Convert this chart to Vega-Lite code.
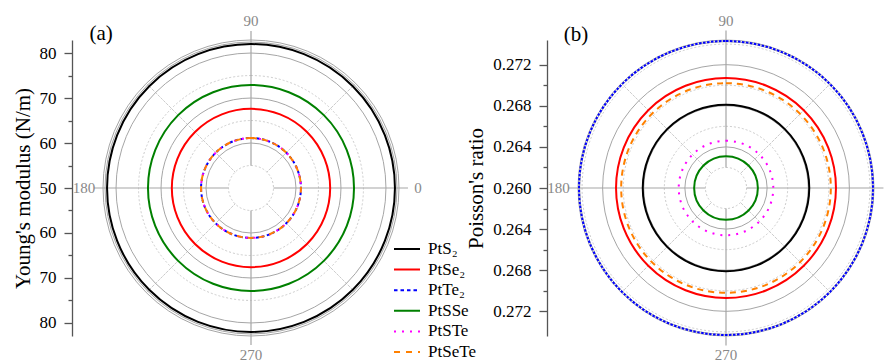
{
  "$schema": "https://vega.github.io/schema/vega-lite/v6.json",
  "background": "white",
  "padding": {"left": 12, "top": 13, "right": 0, "bottom": 0},
  "spacing": 0,
  "bounds": "flush",
  "config": {
    "view": {"stroke": null},
    "font": "Liberation Serif",
    "axis": {
      "grid": false,
      "labelFont": "Liberation Serif",
      "titleFont": "Liberation Serif",
      "labelFontSize": 17,
      "titleFontSize": 21,
      "titleFontWeight": "normal",
      "labelColor": "#000000",
      "titleColor": "#000000",
      "domainColor": "#555555",
      "tickColor": "#555555",
      "domainWidth": 1.3,
      "tickWidth": 1.3
    }
  },
  "datasets": {
    "materials": [
      {"material": "PtS2", "label": "PtS₂", "young": 82.0, "poisson": 0.2681},
      {"material": "PtSe2", "label": "PtSe₂", "young": 67.6, "poisson": 0.2707},
      {"material": "PtTe2", "label": "PtTe₂", "young": 61.1, "poisson": 0.2743},
      {"material": "PtSSe", "label": "PtSSe", "young": 72.9, "poisson": 0.2631},
      {"material": "PtSTe", "label": "PtSTe", "young": 61.1, "poisson": 0.2646},
      {"material": "PtSeTe", "label": "PtSeTe", "young": 61.1, "poisson": 0.2702}
    ],
    "gridA": [
      {"r": 55, "kind": "minor"}, {"r": 65, "kind": "minor"}, {"r": 75, "kind": "minor"},
      {"r": 60, "kind": "major"}, {"r": 70, "kind": "major"}, {"r": 80, "kind": "major"},
      {"r": 82.9, "kind": "major"}, {"r": 82.45, "kind": "major"}
    ],
    "gridB": [
      {"r": 0.262, "kind": "minor"}, {"r": 0.266, "kind": "minor"}, {"r": 0.270, "kind": "minor"}, {"r": 0.274, "kind": "minor"},
      {"r": 0.264, "kind": "major"}, {"r": 0.268, "kind": "major"}, {"r": 0.272, "kind": "major"},
      {"r": 0.2744, "kind": "major"}, {"r": 0.27424, "kind": "major"}
    ],
    "spokes": [
      {"angle": 0, "kind": "major"}, {"angle": 45, "kind": "minor"}, {"angle": 90, "kind": "major"}, {"angle": 135, "kind": "minor"},
      {"angle": 180, "kind": "major"}, {"angle": 225, "kind": "minor"}, {"angle": 270, "kind": "major"}, {"angle": 315, "kind": "minor"}
    ],
    "angleLabels": [
      {"angle": 0, "label": "0"}, {"angle": 90, "label": "90"}, {"angle": 180, "label": "180"}, {"angle": 270, "label": "270"}
    ]
  },
  "hconcat": [
    {
      "width": 296,
      "height": 296,
      "layer": [
        {
          "data": {"name": "gridA"},
          "transform": [{"filter": "datum.kind == 'minor'"}],
          "mark": {"type": "arc", "filled": false, "stroke": "#cccccc", "strokeWidth": 1, "strokeDash": [2, 2], "theta": 0, "theta2": 6.2832},
          "encoding": {
            "radius": {"field": "r", "type": "quantitative", "stack": null, "scale": {"type": "linear", "domain": [50, 82.9], "range": [0, 148], "zero": false, "nice": false}}
          }
        },
        {
          "data": {"name": "spokes"},
          "transform": [{"filter": "datum.kind == 'minor'"}],
          "mark": {"type": "arc", "filled": false, "stroke": "#cccccc", "strokeWidth": 1, "strokeDash": [2, 2]},
          "encoding": {
            "theta": {"field": "angle", "type": "quantitative", "stack": null, "scale": {"domain": [0, 360], "range": [1.5707963, -4.712389], "zero": false, "nice": false}},
            "theta2": {"field": "angle"},
            "radius": {"datum": 55, "type": "quantitative", "stack": null, "scale": {"type": "linear", "domain": [50, 82.9], "range": [0, 148], "zero": false, "nice": false}},
            "radius2": {"datum": 82.9}
          }
        },
        {
          "data": {"name": "gridA"},
          "transform": [{"filter": "datum.kind == 'major'"}],
          "mark": {"type": "arc", "filled": false, "stroke": "#a6a6a6", "strokeWidth": 1, "theta": 0, "theta2": 6.2832},
          "encoding": {
            "radius": {"field": "r", "type": "quantitative", "stack": null, "scale": {"type": "linear", "domain": [50, 82.9], "range": [0, 148], "zero": false, "nice": false}}
          }
        },
        {
          "data": {"name": "spokes"},
          "transform": [{"filter": "datum.kind == 'major'"}],
          "mark": {"type": "arc", "filled": false, "stroke": "#a6a6a6", "strokeWidth": 1.2},
          "encoding": {
            "theta": {"field": "angle", "type": "quantitative", "stack": null, "scale": {"domain": [0, 360], "range": [1.5707963, -4.712389], "zero": false, "nice": false}},
            "theta2": {"field": "angle"},
            "radius": {"datum": 55, "type": "quantitative", "stack": null, "scale": {"type": "linear", "domain": [50, 82.9], "range": [0, 148], "zero": false, "nice": false}},
            "radius2": {"datum": 84.9}
          }
        },
        {
          "data": {"name": "materials"},
          "transform": [{"filter": "indexof(['PtS2', 'PtSe2', 'PtSSe'], datum.material) >= 0"}],
          "mark": {"type": "arc", "filled": false, "strokeWidth": 2, "theta": 0, "theta2": 6.2832},
          "encoding": {
            "radius": {"field": "young", "type": "quantitative", "stack": null, "scale": {"type": "linear", "domain": [50, 82.9], "range": [0, 148], "zero": false, "nice": false}},
            "color": {"field": "material", "type": "nominal", "legend": null,
              "scale": {"domain": ["PtS2", "PtSe2", "PtTe2", "PtSSe", "PtSTe", "PtSeTe"], "range": ["#000000", "#ff0000", "#0000ff", "#008000", "#ff00ff", "#ff8000"]}}
          }
        },
        {
          "data": {"name": "materials"},
          "transform": [{"filter": "datum.material == 'PtTe2'"}],
          "mark": {"type": "arc", "filled": false, "strokeWidth": 2, "strokeDash": [3, 2.5], "theta": 0, "theta2": 6.2832},
          "encoding": {
            "radius": {"field": "young", "type": "quantitative", "stack": null, "scale": {"type": "linear", "domain": [50, 82.9], "range": [0, 148], "zero": false, "nice": false}},
            "color": {"field": "material", "type": "nominal", "legend": null,
              "scale": {"domain": ["PtS2", "PtSe2", "PtTe2", "PtSSe", "PtSTe", "PtSeTe"], "range": ["#000000", "#ff0000", "#0000ff", "#008000", "#ff00ff", "#ff8000"]}}
          }
        },
        {
          "data": {"name": "materials"},
          "transform": [{"filter": "datum.material == 'PtSTe'"}],
          "mark": {"type": "arc", "filled": false, "strokeWidth": 2, "strokeDash": [2, 6], "theta": 0, "theta2": 6.2832},
          "encoding": {
            "radius": {"field": "young", "type": "quantitative", "stack": null, "scale": {"type": "linear", "domain": [50, 82.9], "range": [0, 148], "zero": false, "nice": false}},
            "color": {"field": "material", "type": "nominal", "legend": null,
              "scale": {"domain": ["PtS2", "PtSe2", "PtTe2", "PtSSe", "PtSTe", "PtSeTe"], "range": ["#000000", "#ff0000", "#0000ff", "#008000", "#ff00ff", "#ff8000"]}}
          }
        },
        {
          "data": {"name": "materials"},
          "transform": [{"filter": "datum.material == 'PtSeTe'"}],
          "mark": {"type": "arc", "filled": false, "strokeWidth": 2, "strokeDash": [6, 5], "theta": 0, "theta2": 6.2832},
          "encoding": {
            "radius": {"field": "young", "type": "quantitative", "stack": null, "scale": {"type": "linear", "domain": [50, 82.9], "range": [0, 148], "zero": false, "nice": false}},
            "color": {"field": "material", "type": "nominal", "legend": null,
              "scale": {"domain": ["PtS2", "PtSe2", "PtTe2", "PtSSe", "PtSTe", "PtSeTe"], "range": ["#000000", "#ff0000", "#0000ff", "#008000", "#ff00ff", "#ff8000"]}}
          }
        },
        {
          "data": {"name": "angleLabels"},
          "mark": {"type": "text", "color": "#888888", "fontSize": 15, "align": "center", "baseline": "middle"},
          "encoding": {
            "theta": {"field": "angle", "type": "quantitative", "stack": null, "scale": {"domain": [0, 360], "range": [1.5707963, -4.712389], "zero": false, "nice": false}},
            "radius": {"datum": 87.1, "type": "quantitative", "stack": null, "scale": {"type": "linear", "domain": [50, 82.9], "range": [0, 148], "zero": false, "nice": false}},
            "text": {"field": "label"}
          }
        },
        {
          "data": {"values": [{"tag": "(a)"}]},
          "mark": {"type": "text", "fontSize": 21, "color": "#000000", "align": "center", "baseline": "middle"},
          "encoding": {
            "text": {"field": "tag"},
            "x": {"datum": -33.3, "type": "quantitative", "scale": {"domain": [-32.9, 32.9], "zero": false, "nice": false}, "axis": null},
            "y": {"datum": 34.2, "type": "quantitative", "scale": {"domain": [-32.9, 32.9], "zero": false, "nice": false},
              "axis": {
                "title": "Young's modulus (N/m)",
                "values": [-30, -25, -20, -15, -10, -5, 0, 5, 10, 15, 20, 25, 30],
                "labelExpr": "abs(datum.value) % 10 == 0 ? '' + (50 + abs(datum.value)) : ''",
                "tickSize": {"condition": {"test": "abs(datum.value) % 10 == 0", "value": 8}, "value": 4},
                "offset": 31,
                "labelPadding": 8,
                "titlePadding": 6
              }
            }
          }
        }
      ]
    },
    {
      "width": 179,
      "height": 296,
      "data": {"name": "materials"},
      "layer": [
        {
          "mark": {"type": "rule", "strokeWidth": 2},
          "encoding": {
            "x": {"datum": -5, "type": "quantitative", "scale": {"domain": [0, 179], "zero": false, "nice": false}, "axis": null},
            "x2": {"datum": 21},
            "y": {"field": "material", "type": "nominal", "sort": null, "axis": null,
              "scale": {"type": "point", "padding": 0, "domain": ["PtS2", "PtSe2", "PtTe2", "PtSSe", "PtSTe", "PtSeTe"], "range": [209, 312]}},
            "color": {"field": "material", "type": "nominal", "legend": null,
              "scale": {"domain": ["PtS2", "PtSe2", "PtTe2", "PtSSe", "PtSTe", "PtSeTe"], "range": ["#000000", "#ff0000", "#0000ff", "#008000", "#ff00ff", "#ff8000"]}},
            "strokeDash": {"field": "material", "type": "nominal", "legend": null,
              "scale": {"domain": ["PtS2", "PtSe2", "PtTe2", "PtSSe", "PtSTe", "PtSeTe"], "range": [[1, 0], [1, 0], [3.5, 3], [1, 0], [2, 6], [6, 6]]}}
          }
        },
        {
          "mark": {"type": "text", "fontSize": 17, "color": "#000000", "align": "left", "baseline": "middle"},
          "encoding": {
            "x": {"datum": 29, "type": "quantitative", "scale": {"domain": [0, 179], "zero": false, "nice": false}, "axis": null},
            "y": {"field": "material", "type": "nominal", "sort": null, "axis": null,
              "scale": {"type": "point", "padding": 0, "domain": ["PtS2", "PtSe2", "PtTe2", "PtSSe", "PtSTe", "PtSeTe"], "range": [209, 312]}},
            "text": {"field": "label"}
          }
        }
      ]
    },
    {
      "width": 296,
      "height": 296,
      "layer": [
        {
          "data": {"name": "gridB"},
          "transform": [{"filter": "datum.kind == 'minor'"}],
          "mark": {"type": "arc", "filled": false, "stroke": "#cccccc", "strokeWidth": 1, "strokeDash": [2, 2], "theta": 0, "theta2": 6.2832},
          "encoding": {
            "radius": {"field": "r", "type": "quantitative", "stack": null, "scale": {"type": "linear", "domain": [0.26, 0.2744], "range": [0, 148], "zero": false, "nice": false}}
          }
        },
        {
          "data": {"name": "spokes"},
          "transform": [{"filter": "datum.kind == 'minor'"}],
          "mark": {"type": "arc", "filled": false, "stroke": "#cccccc", "strokeWidth": 1, "strokeDash": [2, 2]},
          "encoding": {
            "theta": {"field": "angle", "type": "quantitative", "stack": null, "scale": {"domain": [0, 360], "range": [1.5707963, -4.712389], "zero": false, "nice": false}},
            "theta2": {"field": "angle"},
            "radius": {"datum": 0.262, "type": "quantitative", "stack": null, "scale": {"type": "linear", "domain": [0.26, 0.2744], "range": [0, 148], "zero": false, "nice": false}},
            "radius2": {"datum": 0.2744}
          }
        },
        {
          "data": {"name": "gridB"},
          "transform": [{"filter": "datum.kind == 'major'"}],
          "mark": {"type": "arc", "filled": false, "stroke": "#a6a6a6", "strokeWidth": 1, "theta": 0, "theta2": 6.2832},
          "encoding": {
            "radius": {"field": "r", "type": "quantitative", "stack": null, "scale": {"type": "linear", "domain": [0.26, 0.2744], "range": [0, 148], "zero": false, "nice": false}}
          }
        },
        {
          "data": {"name": "spokes"},
          "transform": [{"filter": "datum.kind == 'major'"}],
          "mark": {"type": "arc", "filled": false, "stroke": "#a6a6a6", "strokeWidth": 1.2},
          "encoding": {
            "theta": {"field": "angle", "type": "quantitative", "stack": null, "scale": {"domain": [0, 360], "range": [1.5707963, -4.712389], "zero": false, "nice": false}},
            "theta2": {"field": "angle"},
            "radius": {"datum": 0.262, "type": "quantitative", "stack": null, "scale": {"type": "linear", "domain": [0.26, 0.2744], "range": [0, 148], "zero": false, "nice": false}},
            "radius2": {"datum": 0.27532}
          }
        },
        {
          "data": {"name": "materials"},
          "transform": [{"filter": "indexof(['PtS2', 'PtSe2', 'PtSSe'], datum.material) >= 0"}],
          "mark": {"type": "arc", "filled": false, "strokeWidth": 2, "theta": 0, "theta2": 6.2832},
          "encoding": {
            "radius": {"field": "poisson", "type": "quantitative", "stack": null, "scale": {"type": "linear", "domain": [0.26, 0.2744], "range": [0, 148], "zero": false, "nice": false}},
            "color": {"field": "material", "type": "nominal", "legend": null,
              "scale": {"domain": ["PtS2", "PtSe2", "PtTe2", "PtSSe", "PtSTe", "PtSeTe"], "range": ["#000000", "#ff0000", "#0000ff", "#008000", "#ff00ff", "#ff8000"]}}
          }
        },
        {
          "data": {"name": "materials"},
          "transform": [{"filter": "datum.material == 'PtTe2'"}],
          "mark": {"type": "arc", "filled": false, "strokeWidth": 2, "strokeDash": [2.5, 1.5], "theta": 0, "theta2": 6.2832},
          "encoding": {
            "radius": {"field": "poisson", "type": "quantitative", "stack": null, "scale": {"type": "linear", "domain": [0.26, 0.2744], "range": [0, 148], "zero": false, "nice": false}},
            "color": {"field": "material", "type": "nominal", "legend": null,
              "scale": {"domain": ["PtS2", "PtSe2", "PtTe2", "PtSSe", "PtSTe", "PtSeTe"], "range": ["#000000", "#ff0000", "#0000ff", "#008000", "#ff00ff", "#ff8000"]}}
          }
        },
        {
          "data": {"name": "materials"},
          "transform": [{"filter": "datum.material == 'PtSTe'"}],
          "mark": {"type": "arc", "filled": false, "strokeWidth": 2, "strokeDash": [2, 6], "theta": 0, "theta2": 6.2832},
          "encoding": {
            "radius": {"field": "poisson", "type": "quantitative", "stack": null, "scale": {"type": "linear", "domain": [0.26, 0.2744], "range": [0, 148], "zero": false, "nice": false}},
            "color": {"field": "material", "type": "nominal", "legend": null,
              "scale": {"domain": ["PtS2", "PtSe2", "PtTe2", "PtSSe", "PtSTe", "PtSeTe"], "range": ["#000000", "#ff0000", "#0000ff", "#008000", "#ff00ff", "#ff8000"]}}
          }
        },
        {
          "data": {"name": "materials"},
          "transform": [{"filter": "datum.material == 'PtSeTe'"}],
          "mark": {"type": "arc", "filled": false, "strokeWidth": 2, "strokeDash": [6, 5], "theta": 0, "theta2": 6.2832},
          "encoding": {
            "radius": {"field": "poisson", "type": "quantitative", "stack": null, "scale": {"type": "linear", "domain": [0.26, 0.2744], "range": [0, 148], "zero": false, "nice": false}},
            "color": {"field": "material", "type": "nominal", "legend": null,
              "scale": {"domain": ["PtS2", "PtSe2", "PtTe2", "PtSSe", "PtSTe", "PtSeTe"], "range": ["#000000", "#ff0000", "#0000ff", "#008000", "#ff00ff", "#ff8000"]}}
          }
        },
        {
          "data": {"name": "angleLabels"},
          "mark": {"type": "text", "color": "#888888", "fontSize": 15, "align": "center", "baseline": "middle"},
          "encoding": {
            "theta": {"field": "angle", "type": "quantitative", "stack": null, "scale": {"domain": [0, 360], "range": [1.5707963, -4.712389], "zero": false, "nice": false}},
            "radius": {"datum": 0.27629, "type": "quantitative", "stack": null, "scale": {"type": "linear", "domain": [0.26, 0.2744], "range": [0, 148], "zero": false, "nice": false}},
            "text": {"field": "label"}
          }
        },
        {
          "data": {"values": [{"tag": "(b)"}]},
          "mark": {"type": "text", "fontSize": 21, "color": "#000000", "align": "center", "baseline": "middle"},
          "encoding": {
            "text": {"field": "tag"},
            "x": {"datum": -0.0146, "type": "quantitative", "scale": {"domain": [-0.0144, 0.0144], "zero": false, "nice": false}, "axis": null},
            "y": {"datum": 0.0149, "type": "quantitative", "scale": {"domain": [-0.0144, 0.0144], "zero": false, "nice": false},
              "axis": {
                "title": "Poisson's ratio",
                "values": [-0.012, -0.01, -0.008, -0.006, -0.004, -0.002, 0, 0.002, 0.004, 0.006, 0.008, 0.01, 0.012],
                "labelExpr": "round(abs(datum.value) * 1000) % 4 == 0 ? format(0.26 + abs(datum.value), '.3f') : ''",
                "tickSize": {"condition": {"test": "round(abs(datum.value) * 1000) % 4 == 0", "value": 8}, "value": 4},
                "offset": 31,
                "labelPadding": 8,
                "titlePadding": 6
              }
            }
          }
        }
      ]
    }
  ]
}
